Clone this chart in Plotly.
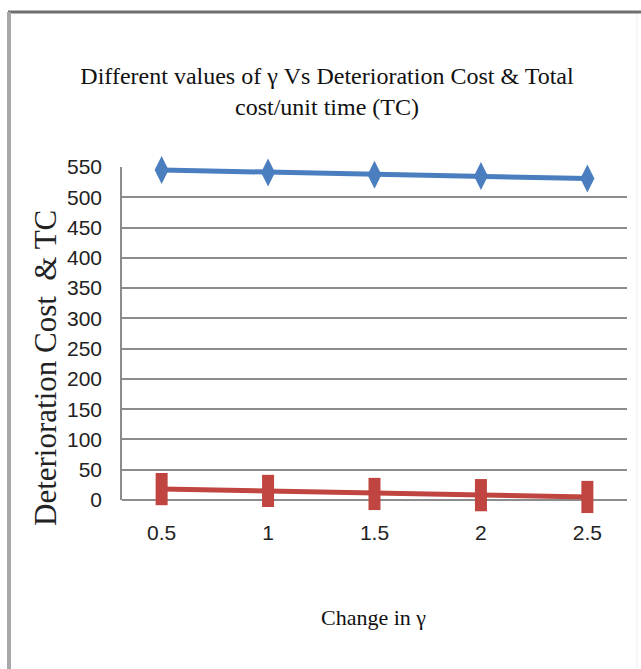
import plotly.graph_objects as go

# Values of gamma and the two cost series
gamma = ["0.5", "1", "1.5", "2", "2.5"]
total_cost = [545, 541, 537, 535, 531]
deterioration_cost = [18, 15, 10, 8, 5]
y_ticks = [0, 50, 100, 150, 200, 250, 300, 350, 400, 450, 500, 550]

W, H = 641, 669
L, R, T, B = 122, 14, 167, 169  # plot area margins in pixels
PW, PH = W - L - R, H - T - B


def px_x(px):
    return (px - L) / PW


def px_y(py):
    return (H - B - py) / PH


narrow = "Liberation Sans Narrow, Arial Narrow, Liberation Sans, sans-serif"
serif = "Liberation Serif, Times New Roman, serif"

fig = go.Figure()

fig.add_trace(go.Scatter(
    x=gamma, y=total_cost, mode="lines+markers", name="TC",
    line=dict(color="#4A7EBF", width=5),
    marker=dict(symbol="diamond-tall", size=20, color="#4A7EBF"),
    cliponaxis=False,
))

fig.add_trace(go.Scatter(
    x=gamma, y=deterioration_cost, mode="lines+markers", name="Deterioration Cost",
    line=dict(color="#C0443F", width=5),
    marker=dict(symbol="line-ns-open", size=23,
                line=dict(color="#C0443F", width=12)),
    cliponaxis=False,
))

fig.update_layout(
    width=W, height=H,
    margin=dict(l=L, r=R, t=T, b=B),
    paper_bgcolor="white", plot_bgcolor="white",
    showlegend=False,
    title=dict(
        text="Different values of γ Vs Deterioration Cost &amp; Total<br>cost/unit time (TC)",
        font=dict(family=serif, size=24, color="#111111"),
        x=327 / W, xanchor="center", xref="container",
        y=1 - 84 / H, yanchor="middle", yref="container",
    ),
    xaxis=dict(
        type="category", showgrid=False,
        showline=False, ticks="",
        tickfont=dict(family=narrow, size=21, color="#222222"),
        ticklabelstandoff=18,
    ),
    yaxis=dict(
        range=[0, 550], tickvals=y_ticks,
        showgrid=True, gridcolor="#8C8C8C", gridwidth=1.5,
        showline=True, linecolor="#8C8C8C", linewidth=1.5,
        zeroline=True, zerolinecolor="#8C8C8C", zerolinewidth=1.5,
        ticks="", tickfont=dict(family=narrow, size=21, color="#222222"),
        ticklabelstandoff=14,
    ),
    annotations=[
        dict(text="Deterioration Cost&nbsp;&nbsp;&amp; TC", textangle=-90,
             xref="paper", yref="paper", x=px_x(45), y=px_y(368),
             xanchor="center", yanchor="middle", showarrow=False,
             font=dict(family=serif, size=31, color="#222222")),
        dict(text="Change in γ",
             xref="paper", yref="paper", x=px_x(373), y=px_y(617),
             xanchor="center", yanchor="middle", showarrow=False,
             font=dict(family=serif, size=22, color="#111111")),
    ],
    shapes=[
        # chart frame: top and left edges, faint right edge
        dict(type="line", xref="paper", yref="paper",
             x0=px_x(8), x1=px_x(641), y0=px_y(12), y1=px_y(12),
             line=dict(color="#6E6E6E", width=3)),
        dict(type="line", xref="paper", yref="paper",
             x0=px_x(9), x1=px_x(9), y0=px_y(12), y1=px_y(669),
             line=dict(color="#A8A8A8", width=4)),
        dict(type="line", xref="paper", yref="paper",
             x0=px_x(637), x1=px_x(637), y0=px_y(14), y1=px_y(669),
             line=dict(color="#EEEEEE", width=1)),
    ],
)

fig.write_html("out.html")
